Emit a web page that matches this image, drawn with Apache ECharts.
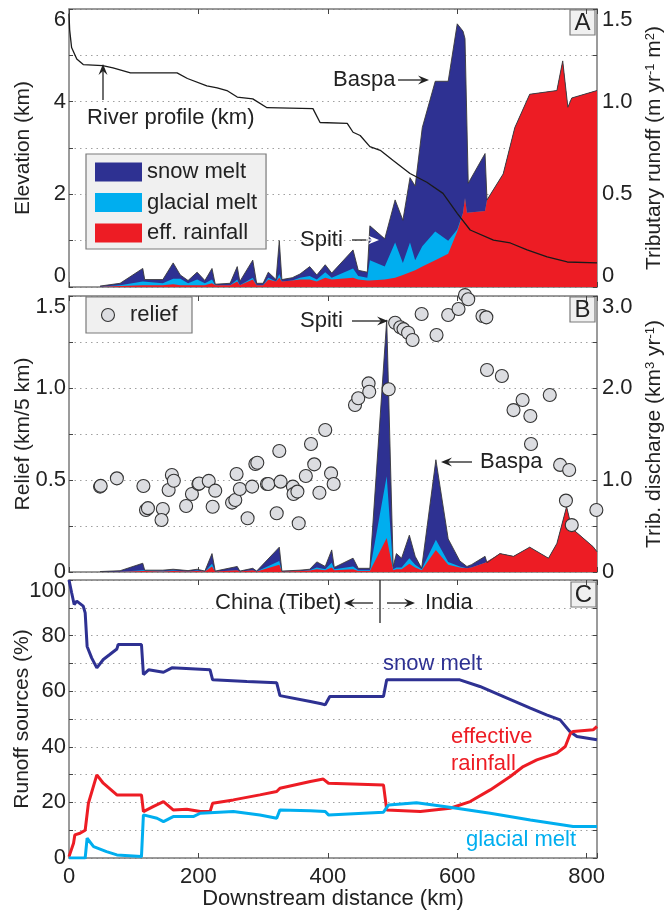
<!DOCTYPE html>
<html>
<head>
<meta charset="utf-8">
<script src="https://cdn.jsdelivr.net/npm/echarts/dist/echarts.min.js"></script>
<style>
  html, body { margin: 0; padding: 0; background: #fff; }
  #chart { width: 670px; height: 912px; }
</style>
</head>
<body>
<div id="chart"></div>
<script>
// ---- panel A: tributary runoff (m/yr/m2), three sources ----
const distA  = [48,79,114,117,145,161,172,184,198,210, 221,226,249,260,264,284,290,300,308,320, 325,329,345,357,372,383,396,406,439,447, 461,465,488,504,516,527,535,546,566,586, 600,609,612,615,617,643,646,671,689,712, 754,763,771,777,816];
const rainA  = [.002,.005,.01,.01,.01,.015,.01,.01,.01,.01, .02,.01,.01,.03,.01,.04,.01,.01,.04,.03, .05,.03,.035,.04,.04,.03,.05,.04,.05,.04, .035,.035,.04,.05,.065,.08,.09,.11,.145,.18, .30,.40,.48,.40,.40,.41,.47,.61,.86,1.04, 1.06,1.22,.97,1.02,1.06];
const glacA  = [0,.005,.02,.01,.01,.03,.035,.01,.03,.01, .02,0,0,.01,0,.01,0,0,.01,0, .02,0,0,.01,.02,.01,.03,.01,.05,.02, .015,.11,.07,.19,.065,.16,.055,.11,.155,.07, .01,0,0,0,0,0,0,0,0,0, 0,0,0,0,0];
const snowA  = [.003,.01,.07,.02,.02,.085,.02,.015,.04,.015, .06,.005,.01,.07,.02,.095,.01,.01,.03,.01, .18,.01,.015,.02,.05,.025,.04,.025,.10,.03, .03,.185,.15,.23,.23,.35,.40,.64,.81,.86, 1.11,.98,.86,.93,.16,.31,0,0,0,0, 0,0,0,0,0];

// river profile [km downstream, elevation km]
const profile = [[0,5.9],[1,5.55],[4,5.17],[12,4.92],[22,4.8],[52,4.78],[68,4.73],[95,4.62],[167,4.62],[183,4.5],[213,4.34],[229,4.3],[244,4.24],[260,4.1],[284,4.06],[306,3.87],[377,3.85],[388,3.55],[430,3.53],[439,3.34],[450,3.27],[465,3.03],[481,2.95],[501,2.73],[527,2.45],[553,2.26],[578,2.02],[600,1.59],[620,1.23],[656,1.01],[682,0.95],[708,0.8],[739,0.65],[770,0.54],[816,0.52]];

// ---- panel B: tributary discharge (km3/yr), three sources ----
const distB = [48,79,114,117,145,161,184,198,210,221, 226,260,264,284,290,325,329,357,372,383, 396,406,410,439,447,465,491,501,506,514, 526,535,545,567,586,604,615,622,643,646, 666,687,712,741,754,769,777,810,816];
const rainB = [0,.002,.01,.005,.005,.01,.005,.01,.005,.06, .005,.02,.005,.02,.005,.08,.005,.01,.015,.03, .02,.05,.02,.03,.01,.01,.37,.02,.03,.03, .09,.05,.02,.24,.08,.05,.04,.05,.10,.10, .20,.17,.27,.15,.31,.71,.475,.275,.22];
const glacB = [0,.002,.01,.005,.005,.005,0,.005,0,.03, 0,0,0,0,0,.04,0,0,.005,.02, .01,.05,.01,.03,.01,.01,.67,.01,.02,.02, .06,.03,.01,.11,.03,.01,0,0,0,0, 0,0,0,0,0,0,0,0,0];
const snowB = [.005,.01,.075,.01,.01,.015,.01,.015,.005,.11, .005,.04,.005,.02,.005,.15,.005,.01,.01,.06, .03,.14,.02,.09,.02,.02,1.70,.03,.15,.10, .25,.09,.01,.87,.25,.06,.02,.03,.07,0, 0,0,0,0,0,0,0,0,0];

// relief (km/5 km) [km, relief]
const relief = [[48,0.464],[49,0.468],[74,0.509],[115,0.467],[119,0.337],[122,0.347],[145,0.342],[143,0.283],[154,0.446],[159,0.527],[162,0.496],[181,0.359],[190,0.424],[200,0.478],[201,0.481],[216,0.495],[222,0.355],[226,0.442],[252,0.377],[257,0.391],[259,0.533],[264,0.451],[276,0.292],[283,0.464],[288,0.587],[291,0.594],[306,0.478],[308,0.478],[325,0.658],[321,0.319],[327,0.491],[346,0.464],[347,0.424],[353,0.437],[355,0.265],[366,0.522],[374,0.696],[379,0.585],[387,0.431],[396,0.772],[405,0.536],[409,0.478],[442,0.908],[447,0.944],[463,1.025],[464,0.98],[494,0.993],[504,1.355],[512,1.33],[517,1.32],[524,1.30],[531,1.261],[545,1.402],[568,1.288],[586,1.397],[602,1.429],[612,1.505],[617,1.482],[639,1.391],[645,1.384],[646,1.098],[669,1.065],[687,0.88],[701,0.935],[713,0.848],[714,0.696],[743,0.962],[759,0.582],[768,0.388],[773,0.554],[777,0.255],[815,0.337]];

// ---- panel C: runoff sources (%) [km, percent] ----
const snowC = [[0,100],[4,95.5],[8,91.2],[12,92.4],[22,90.6],[25,88.2],[28,76.1],[35,72],[43,68.4],[53,71.4],[63,73.2],[74,75.2],[76,76.8],[112,76.8],[115,66],[123,67.7],[146,66.8],[159,68.4],[218,67.7],[222,64.1],[275,63.5],[321,63],[326,58.4],[373,56.3],[390,55.5],[396,55.1],[403,58.1],[486,58.1],[491,64.1],[604,64.1],[635,61.7],[677,57.5],[713,53.9],[738,51.5],[759,49.7],[774,45.5],[785,43.7],[816,42.5]];
const rainC = [[0,0.5],[2,1],[7,5.3],[9,8.3],[17,8.9],[25,10],[30,19.7],[43,29.9],[53,26.9],[74,22.7],[112,22.7],[115,16.7],[130,18.5],[146,20.3],[161,17.3],[182,17.5],[203,16.7],[218,16.7],[222,19.7],[254,20.9],[295,22.7],[321,23.9],[326,25.1],[373,27.5],[393,28.4],[401,26.9],[486,26.3],[491,17.3],[543,16.7],[589,17.9],[620,20.3],[651,24.5],[682,29.3],[702,32.9],[723,35.3],[754,37.7],[767,40.1],[775,44.9],[779,45.5],[810,46.1],[816,47.3]];
const glacC = [[0,0],[25,0],[28,7.1],[38,4.1],[58,2.3],[74,1.1],[112,0.5],[115,15.5],[136,14.3],[146,13.1],[161,14.9],[192,14.9],[203,16.1],[254,16.7],[295,15.5],[321,14.3],[326,17.3],[373,17],[396,16.7],[401,15.5],[486,16.5],[494,19.1],[537,19.9],[563,19.1],[599,17.9],[651,16.1],[713,13.7],[764,11.9],[779,11.3],[816,11.3]];

const NAVY = '#2e3192', CYAN = '#00aeef', RED = '#ed1c24';
const FRAME = '#7a7a7a', INK = '#222';
const FONT = '"Liberation Sans", Arial, Helvetica, sans-serif';
const zip = (xs, ys) => xs.map((x, i) => [x, ys[i]]);
// running totals so each layer is drawn as the area under its upper edge
const tops = (a, b, c) => [a, a.map((v, i) => v + b[i]), a.map((v, i) => v + b[i] + c[i])];

const fmtHalf = v => { const k = Math.round(v * 100); return k % 50 === 0 ? (k === 0 ? '0' : (k / 100).toFixed(1)) : ''; };
const fmtOne  = v => { const k = Math.round(v * 100); return k % 100 === 0 ? (k === 0 ? '0' : (k / 100).toFixed(1)) : ''; };

function xPair(g, showLabels) {
  const base = {
    gridIndex: g, type: 'value', min: 0, max: 816, interval: 200,
    axisLine: { show: true, onZero: false, lineStyle: { color: FRAME, width: 1.5 } },
    axisTick: { show: true, inside: true, length: 5, lineStyle: { color: '#444' } },
    splitLine: { show: false }
  };
  return [
    Object.assign({}, base, {
      position: 'bottom',
      axisLabel: { show: showLabels, fontSize: 22, fontFamily: FONT, color: INK, margin: 8,
        formatter: v => (v % 200 === 0 ? String(v) : '') }
    }),
    Object.assign({}, base, { position: 'top', axisLabel: { show: false } })
  ];
}

function yAx(g, pos, max, interval, fmt, split, minAlign) {
  return {
    gridIndex: g, type: 'value', position: pos, min: 0, max: max, interval: interval,
    axisLine: { show: true, onZero: false, lineStyle: { color: FRAME, width: 1.5 } },
    axisTick: { show: true, inside: true, length: 4, lineStyle: { color: '#444' } },
    axisLabel: { show: !!fmt, formatter: fmt, fontSize: 22, fontFamily: FONT, color: INK,
      margin: pos === 'left' ? 3 : 5, verticalAlignMaxLabel: 'top', verticalAlignMinLabel: minAlign || 'middle' },
    splitLine: { show: split, lineStyle: { color: '#a0a0a0', width: 1, type: [1.5, 4] } },
    nameLocation: 'middle', nameMoveOverlap: false,
    nameTextStyle: { fontSize: 21, fontFamily: FONT, color: INK,
      rich: { sup: { fontSize: 13, fontFamily: FONT, color: INK, verticalAlign: 'top' } } }
  };
}

const xAxes = [].concat(xPair(0, false), xPair(1, false), xPair(2, true));
xAxes[4].name = 'Downstream distance (km)';
xAxes[4].nameLocation = 'middle';
xAxes[4].nameGap = 30;
xAxes[4].nameMoveOverlap = false;
xAxes[4].nameTextStyle = { fontSize: 22, fontFamily: FONT, color: INK };

const yAxes = [
  Object.assign(yAx(0, 'left', 6, 1, v => (v % 2 === 0 ? String(v) : ''), true, 'bottom'), { name: 'Elevation (km)', nameGap: 35 }),
  Object.assign(yAx(0, 'right', 1.5, 0.25, fmtHalf, false, 'bottom'), { name: 'Tributary runoff (m yr{sup|-1} m{sup|2})', nameGap: 47 }),
  Object.assign(yAx(1, 'left', 1.5, 0.25, fmtHalf, true), { name: 'Relief (km/5 km)', nameGap: 35 }),
  Object.assign(yAx(1, 'right', 3, 0.5, fmtOne, false), { name: 'Trib. discharge (km{sup|3} yr{sup|-1})', nameGap: 47 }),
  Object.assign(yAx(2, 'left', 100, 10, v => (v % 20 === 0 ? String(v) : ''), true), { name: 'Runoff sources (%)', nameGap: 36 }),
  yAx(2, 'right', 100, 10, null, false)
];

function area(name, xi, yi, xs, ys, color, edge) {
  return {
    name: name, type: 'line', xAxisIndex: xi, yAxisIndex: yi,
    data: zip(xs, ys), symbol: 'none', silent: true, z: 2,
    itemStyle: { color: color },
    lineStyle: edge ? { color: '#3a3a3a', width: 0.9 } : { width: 0 },
    areaStyle: { color: color, opacity: 1, origin: 'start' }
  };
}

function pathLine(data, xi, yi, color, width, z) {
  return { type: 'line', xAxisIndex: xi, yAxisIndex: yi, data: data, symbol: 'none', silent: true, z: z || 3,
    itemStyle: { color: color }, lineStyle: { color: color, width: width } };
}

const topsA = tops(rainA, glacA, snowA);
const topsB = tops(rainB, glacB, snowB);

const series = [
  area('snow melt', 0, 1, distA, topsA[2], NAVY, true),
  area('glacial melt', 0, 1, distA, topsA[1], CYAN, false),
  area('eff. rainfall', 0, 1, distA, topsA[0], RED, false),
  pathLine(profile, 0, 0, '#1a1a1a', 1.3, 5),

  area('snowB', 2, 3, distB, topsB[2], NAVY, true),
  area('glacB', 2, 3, distB, topsB[1], CYAN, false),
  area('rainB', 2, 3, distB, topsB[0], RED, false),
  { name: 'relief', type: 'scatter', xAxisIndex: 2, yAxisIndex: 2, data: relief, symbolSize: 13, clip: false, z: 6,
    itemStyle: { color: '#dcdde1', borderColor: '#333', borderWidth: 1.1, opacity: 1 } },

  pathLine(snowC, 4, 4, NAVY, 3, 3),
  pathLine(rainC, 4, 4, RED, 3, 4),
  pathLine(glacC, 4, 4, CYAN, 3, 4)
];

// ---- annotations ----
function arrow(x1, y1, x2, y2, color) {
  const a = Math.atan2(y2 - y1, x2 - x1), c = Math.cos(a), s = Math.sin(a);
  const L = 11, W = 4.5, N = 7;
  const bx = x2 - L * c, by = y2 - L * s, nx = x2 - N * c, ny = y2 - N * s;
  return [
    { type: 'line', z: 100, shape: { x1: x1, y1: y1, x2: nx, y2: ny }, style: { stroke: color, lineWidth: 1.3 } },
    { type: 'polygon', z: 100, shape: { points: [[x2, y2], [bx - W * s, by + W * c], [nx, ny], [bx + W * s, by - W * c]] }, style: { fill: color } }
  ];
}
const txt = (t, x, y, color) => ({ type: 'text', z: 100, x: x, y: y,
  style: { text: t, fill: color || INK, fontSize: 22, fontFamily: FONT, verticalAlign: 'middle' } });
const tag = (t, x, y) => ({ type: 'group', z: 100, x: x, y: y, children: [
  { type: 'rect', shape: { x: 0, y: 0, width: 25, height: 25 }, style: { fill: '#f0f0f0', stroke: FRAME, lineWidth: 1.2 } },
  { type: 'text', x: 12.5, y: 13.5, style: { text: t, fontSize: 24, fontFamily: FONT, fill: INK, align: 'center', verticalAlign: 'middle' } }
] });

const graphic = [].concat(
  [txt('River profile (km)', 87, 118), txt('Baspa', 333, 80), txt('Spiti', 300, 240),
   txt('Spiti', 300, 321), txt('Baspa', 480, 462),
   txt('China (Tibet)', 215, 603), txt('India', 425, 603),
   txt('snow melt', 383, 664, NAVY), txt('effective', 451, 737, RED), txt('rainfall', 451, 764, RED),
   txt('glacial melt', 466, 840, CYAN)],
  arrow(103, 100, 103, 64, INK),
  arrow(398, 80, 429, 80, INK),
  [{ type: 'line', z: 100, shape: { x1: 352, y1: 240, x2: 368, y2: 240 }, style: { stroke: INK, lineWidth: 1.3 } }],
  arrow(366, 240, 379, 240, '#fff'),
  arrow(352, 321, 388, 321, INK),
  arrow(472, 462, 441, 462, INK),
  arrow(373, 603, 344, 603, INK),
  arrow(387, 603, 415, 603, INK),
  [{ type: 'line', z: 100, shape: { x1: 380, y1: 580, x2: 380, y2: 623 }, style: { stroke: INK, lineWidth: 1.3 } }],
  [{ type: 'rect', z: 100, shape: { x: 86, y: 297, width: 106, height: 36 }, style: { fill: '#f0f0f0', stroke: FRAME, lineWidth: 1.2 } },
   { type: 'circle', z: 101, shape: { cx: 108, cy: 315, r: 6.5 }, style: { fill: '#dcdde1', stroke: '#333', lineWidth: 1.1 } },
   { type: 'text', z: 101, x: 130, y: 315, style: { text: 'relief', fill: INK, fontSize: 22, fontFamily: FONT, verticalAlign: 'middle' } }],
  [tag('A', 570, 10), tag('B', 570, 297), tag('C', 571, 582)]
);

const chart = echarts.init(document.getElementById('chart'), null, { renderer: 'canvas' });
chart.setOption({
  animation: false,
  backgroundColor: '#fff',
  textStyle: { fontFamily: FONT },
  grid: [
    { left: 69, width: 528, top: 9, height: 278, outerBoundsMode: 'none', containLabel: false },
    { left: 69, width: 528, top: 296, height: 276, outerBoundsMode: 'none', containLabel: false },
    { left: 69, width: 528, top: 580, height: 278, outerBoundsMode: 'none', containLabel: false }
  ],
  xAxis: xAxes,
  yAxis: yAxes,
  legend: {
    data: ['snow melt', 'glacial melt', 'eff. rainfall'],
    orient: 'vertical', left: 86, top: 154, icon: 'rect',
    itemWidth: 47, itemHeight: 19, itemGap: 8.5, selectedMode: false,
    backgroundColor: '#f0f0f0', borderColor: FRAME, borderWidth: 1.2,
    padding: [7, 9, 5, 9],
    textStyle: { fontSize: 22, fontFamily: FONT, color: INK }
  },
  series: series,
  graphic: graphic
});
</script>
</body>
</html>
